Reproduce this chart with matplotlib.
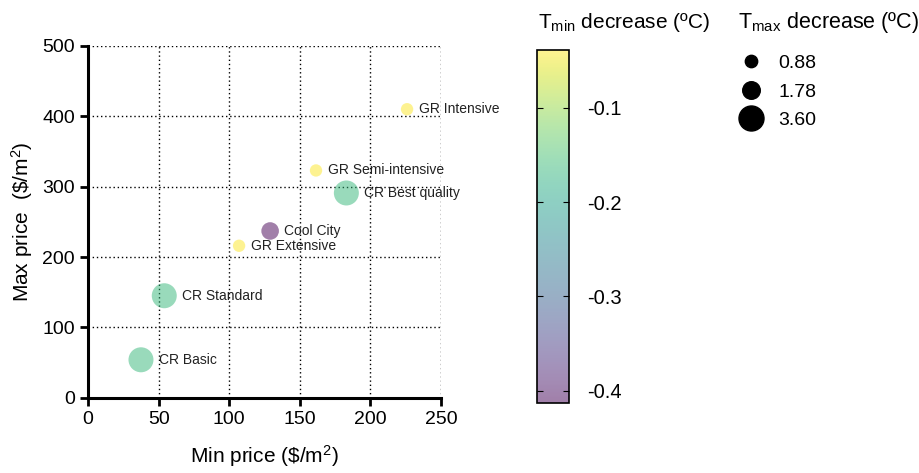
import numpy as np
import matplotlib
matplotlib.use("Agg")
import matplotlib.pyplot as plt
from matplotlib.lines import Line2D

plt.rcParams['font.family'] = ['Liberation Sans', 'DejaVu Sans']
plt.rcParams['mathtext.fontset'] = 'custom'
plt.rcParams['mathtext.rm'] = 'Liberation Sans'
plt.rcParams['mathtext.it'] = 'Liberation Sans:italic'

# cooling measures: cost range, Tmin and Tmax reductions
names = ["GR Intensive", "GR Semi-intensive", "CR Best quality", "Cool City",
         "GR Extensive", "CR Standard", "CR Basic"]
min_price = [226, 161.5, 183, 129, 107, 54, 37.5]
max_price = [410, 323, 291, 237, 216, 145, 54]
tmin_decrease = [-0.039, -0.039, -0.165, -0.413, -0.039, -0.165, -0.165]
tmax_decrease = [0.88, 0.88, 3.60, 1.78, 0.88, 3.60, 3.60]

size_levels = [0.88, 1.78, 3.60]
size_scale = 90

fig = plt.figure(figsize=(9.19, 4.73), dpi=100)
ax = fig.add_axes([0.0958, 0.159, 0.384, 0.744])

sizes = np.array(tmax_decrease) * size_scale
sc = ax.scatter(min_price, max_price, s=sizes, c=tmin_decrease, cmap='viridis',
                vmin=min(tmin_decrease), vmax=max(tmin_decrease),
                alpha=0.5, edgecolors='none', zorder=3)

for name, x, y, s in zip(names, min_price, max_price, sizes):
    ax.annotate(name, (x, y), xytext=(np.sqrt(s) / 2 + 4, 0),
                textcoords='offset points', va='center', ha='left',
                fontsize=10, color='#222222', zorder=4)

ax.set_xlim(0, 250)
ax.set_ylim(0, 500)
ax.set_xticks(np.arange(0, 251, 50))
ax.set_yticks(np.arange(0, 501, 100))
ax.grid(True, linestyle=(0, (1, 2)), color='black', linewidth=1.0)
ax.set_axisbelow(True)
for side in ['top', 'right']:
    ax.spines[side].set_visible(False)
for side in ['left', 'bottom']:
    ax.spines[side].set_linewidth(2.2)
ax.tick_params(axis='both', labelsize=14, width=2, length=6, direction='out')
ax.set_xlabel(r"Min price (\$/m$^2$)", fontsize=15, labelpad=11)
ax.set_ylabel(r"Max price  (\$/m$^2$)", fontsize=15, labelpad=5)

# colour bar for Tmin decrease
cax = fig.add_axes([0.584, 0.148, 0.0348, 0.746])
cb = fig.colorbar(sc, cax=cax, ticks=[-0.1, -0.2, -0.3, -0.4])
cb.outline.set_linewidth(1.2)
cb.ax.tick_params(labelsize=14.5, direction='in', left=True, right=True,
                  length=4, pad=13)
cb.ax.set_yticklabels(["-0.1", "-0.2", "-0.3", "-0.4"])
fig.text(0.585, 0.953, r"T$_{\mathrm{min}}$ decrease (ºC)", fontsize=15,
         ha='left', va='center')

# size legend for Tmax decrease
fig.text(0.803, 0.953, r"T$_{\mathrm{max}}$ decrease (ºC)", fontsize=15.5,
         ha='left', va='center')
handles = [Line2D([], [], linestyle='none', marker='o', color='black',
                  markersize=np.sqrt(v * size_scale)) for v in size_levels]
leg = fig.legend(handles, [f"{v:.2f}" for v in size_levels],
                 loc='center left', bbox_to_anchor=(0.7965, 0.806),
                 frameon=False, fontsize=14, handlelength=2.0,
                 handletextpad=0.38, labelspacing=0.55, borderpad=0,
                 borderaxespad=0)

fig.savefig("out.png", dpi=100)
